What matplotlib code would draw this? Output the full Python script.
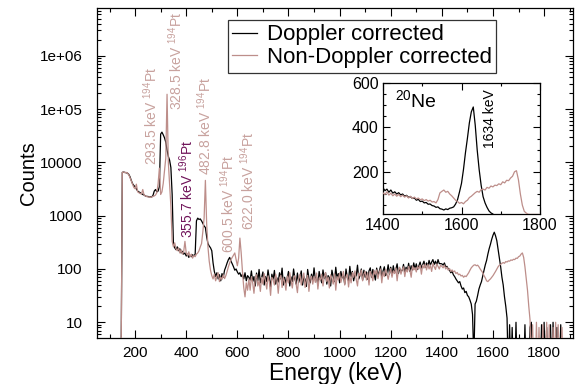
import numpy as np
import matplotlib
matplotlib.use("Agg")
import matplotlib.pyplot as plt
from matplotlib.ticker import FixedLocator, MultipleLocator, FuncFormatter, LogLocator, NullFormatter

plt.rcParams['font.family'] = ['Liberation Sans', 'DejaVu Sans']
plt.rcParams['mathtext.fontset'] = 'custom'
plt.rcParams['mathtext.rm'] = 'Liberation Sans'
plt.rcParams['mathtext.default'] = 'regular'

# ---------------- data (5 keV bins starting at 145 keV) ----------------
E0, DE = 145, 5
doppler = [
    1, 6500, 6600, 6500, 6400, 6300, 6000, 5400, 4600, 4000,      # 145-190
    3700, 3500, 3200, 2900, 2800, 2700, 2600, 2500, 2450, 2350,   # 195-240
    2300, 2300, 2250, 2250, 2250, 2400, 2900, 3100, 2800, 2900,   # 245-290
    3500, 34000, 37000, 33000, 29000, 24000, 17000, 13000, 11000, 8000,  # 295-340
    2500, 290, 250, 230, 260, 220, 240, 200, 215, 190,            # 345-390
    200, 175, 190, 165, 180, 170, 185, 175, 190, 800,             # 395-440
    900, 850, 870, 800, 720, 640, 600, 400, 300, 270,             # 445-490
    250, 220, 130, 90, 72, 85, 65, 78, 60, 82,                    # 495-540
    70, 95, 110, 130, 150, 165, 140, 125, 110, 95,                # 545-590
    100, 88, 80, 85, 72, 80, 65, 85, 60, 75,                      # 595-640
    70, 62, 92, 58, 72, 48, 84, 60, 98, 55,                       # 645-690
    69, 88, 50, 72, 58, 96, 66, 46, 80, 64,                       # 695-740
    94, 52, 68, 57, 85, 65, 104, 50, 70, 54,                      # 745-790
    67, 90, 48, 71, 58, 100, 66, 52, 84, 56,                      # 795-840
    69, 92, 50, 72, 64, 47, 98, 67, 55, 80,                       # 845-890
    60, 105, 64, 70, 50, 90, 68, 55, 96, 66,                      # 895-940
    85, 52, 75, 69, 48, 95, 71, 58, 108, 67,                      # 945-990
    82, 55, 90, 68, 78, 52, 100, 70, 60, 112,                     # 995-1040
    72, 90, 60, 80, 74, 118, 65, 77, 100, 62,                     # 1045-1090
    95, 70, 88, 64, 92, 105, 70, 98, 80, 62,                      # 1095-1140
    104, 76, 90, 112, 70, 92, 110, 75, 86, 120,                   # 1145-1190
    80, 108, 76, 115, 84, 98, 125, 82, 102, 88,                   # 1195-1240
    95, 122, 86, 108, 92, 128, 90, 115, 96, 130,                  # 1245-1290
    100, 125, 98, 114, 135, 104, 120, 140, 108, 130,              # 1295-1340
    112, 145, 118, 135, 150, 122, 140, 118, 150, 126,             # 1345-1390
    126, 125, 118, 130, 110, 112, 100, 95, 85, 90,                # 1395-1440
    78, 72, 65, 60, 55, 58, 48, 42, 44, 36,                       # 1445-1490
    38, 32, 30, 26, 22, 14, 2, 22, 25, 32,                        # 1495-1540
    42, 50, 58, 75, 95, 120, 145, 190, 240, 290,                  # 1545-1590
    360, 430, 490, 420, 340, 230, 160, 110, 70, 50,               # 1595-1640
    30, 20, 12, 1, 9, 1, 8, 1, 1, 10,                             # 1645-1690
    1, 1, 1, 1, 1, 1, 9, 1, 1, 1,                                 # 1695-1740
    8, 10, 1, 1, 1, 1, 1, 1, 1, 9,                                # 1745-1790
    1, 10, 1, 8, 1, 1, 9, 1, 10, 1,                               # 1795-1840
    1, 8, 1, 1, 9, 1, 1, 1, 1, 1,                                 # 1845-1890
    1,                                                            # 1895
]
non_doppler = [
    1, 6500, 6600, 6400, 6500, 6300, 5900, 5200, 4500, 3900,      # 145-190
    3400, 3200, 3900, 2800, 2700, 2600, 2550, 3100, 2450, 2350,   # 195-240
    2300, 2250, 2250, 2200, 2250, 2300, 2350, 2450, 2700, 4000,   # 245-290
    7800, 2500, 2800, 4000, 7000, 12000, 190000, 10000, 4000, 1500,  # 295-340
    330, 260, 310, 240, 220, 250, 200, 230, 190, 210,             # 345-390
    330, 200, 180, 210, 170, 190, 160, 180, 170, 190,             # 395-440
    200, 220, 260, 300, 500, 900, 4600, 700, 260, 140,            # 445-490
    95, 75, 65, 80, 60, 72, 85, 58, 70, 64,                       # 495-540
    78, 66, 75, 90, 110, 130, 150, 165, 180, 200,                 # 545-590
    150, 115, 160, 380, 200, 90, 45, 30, 55, 40,                  # 595-640
    65, 40, 72, 55, 35, 66, 78, 48, 60, 38,                       # 645-690
    70, 52, 82, 60, 42, 74, 58, 32, 70, 63,                       # 695-740
    50, 80, 62, 35, 66, 76, 45, 69, 58, 40,                       # 745-790
    74, 55, 86, 62, 44, 70, 75, 52, 36, 68,                       # 795-840
    80, 50, 65, 84, 45, 62, 76, 38, 66, 73,                       # 845-890
    52, 72, 56, 84, 42, 68, 62, 80, 48, 70,                       # 895-940
    86, 58, 70, 44, 78, 67, 52, 82, 40, 72,                       # 945-990
    62, 84, 56, 70, 90, 50, 72, 80, 46, 74,                       # 995-1040
    55, 86, 70, 92, 64, 48, 84, 74, 95, 60,                       # 1045-1090
    80, 90, 62, 85, 50, 90, 76, 60, 94, 80,                       # 1095-1140
    96, 66, 85, 100, 55, 88, 72, 98, 82, 64,                      # 1145-1190
    84, 102, 70, 92, 82, 104, 60, 96, 108, 80,                    # 1195-1240
    98, 110, 72, 100, 88, 112, 94, 70, 114, 96,                   # 1245-1290
    106, 88, 112, 100, 118, 80, 118, 104, 124, 96,                # 1295-1340
    122, 100, 118, 90, 126, 110, 98, 124, 112, 100,               # 1345-1390
    118, 112, 105, 118, 100, 108, 95, 102, 90, 96,                # 1395-1440
    88, 92, 82, 86, 78, 80, 74, 76, 70, 74,                       # 1445-1490
    72, 78, 85, 95, 105, 112, 118, 120, 115, 118,                 # 1495-1540
    110, 100, 92, 85, 75, 68, 60, 58, 62, 65,                     # 1545-1590
    70, 75, 82, 90, 100, 110, 118, 122, 128, 132,                 # 1595-1640
    128, 138, 135, 142, 140, 148, 145, 152, 150, 160,             # 1645-1690
    158, 170, 175, 190, 200, 165, 110, 65, 40, 20,                # 1695-1740
    11, 1, 9, 1, 1, 10, 1, 8, 1, 1,                               # 1745-1790
    9, 1, 1, 10, 1, 9, 1, 1, 8, 1,                                # 1795-1840
    10, 1, 9, 1, 1, 8, 1, 1, 1, 1,                                # 1845-1890
    1,                                                            # 1895
]

# inset (linear scale, 5 keV bins from 1400 keV)
I0 = 1400
inset_doppler = [
    128, 115, 122, 108, 118, 104, 110, 100, 106, 96,    # 1400-1445
    100, 90, 94, 85, 88, 80, 82, 72, 76, 66,            # 1450-1495
    68, 60, 62, 54, 55, 48, 46, 40, 42, 34,             # 1500-1545
    32, 28, 33, 30, 36, 38, 42, 55, 75, 110,            # 1550-1595
    148, 210, 285, 350, 420, 470, 492, 410, 298, 210,   # 1600-1645
    140, 88, 60, 40, 24, 15, 10, 0, 0, 0,               # 1650-1695
    0, 0, 0, 0, 0, 0, 0, 0, 0, 0,                       # 1700-1745
    0, 0, 0, 0, 0, 0, 0, 0, 0, 0,                       # 1750-1795
    0,                                                  # 1800
]
inset_non_doppler = [
    105, 98, 110, 95, 104, 92, 100, 90, 98, 88,         # 1400-1445
    95, 86, 92, 82, 90, 80, 86, 78, 82, 74,             # 1450-1495
    78, 70, 75, 68, 72, 64, 66, 60, 75, 105,            # 1500-1545
    112, 118, 108, 112, 100, 92, 82, 72, 66, 58,        # 1550-1595
    62, 56, 66, 72, 84, 90, 98, 106, 112, 108,          # 1600-1645
    120, 122, 118, 130, 126, 136, 132, 140, 138, 146,   # 1650-1695
    142, 155, 150, 162, 160, 172, 180, 200, 205, 165,   # 1700-1745
    100, 50, 22, 14, 9, 8, 8, 8, 8, 8,                  # 1750-1795
    8,                                                  # 1800
]

series_labels = ["Doppler corrected", "Non-Doppler corrected"]
peak_labels = [
    ("293.5 keV $^{194}$Pt", 263, 8900),
    ("328.5 keV $^{194}$Pt", 360, 95000),
    ("355.7 keV $^{196}$Pt", 400, 380),
    ("482.8 keV $^{194}$Pt", 474, 5800),
    ("600.5 keV $^{194}$Pt", 564, 200),
    ("622.0 keV $^{194}$Pt", 642, 540),
]
ytick_vals = [10, 100, 1000, 10000, 1e5, 1e6]
ytick_text = ["10", "100", "1000", "10000", "1e+05", "1e+06"]

# ---------------- plotting ----------------
C_DC = "#000000"
C_NDC = "#bd8e8a"
C_LBL = "#c8a29e"
C_196 = "#70145a"

e_dc = E0 + DE * np.arange(len(doppler))
e_ndc = E0 + DE * np.arange(len(non_doppler))
e_idc = I0 + DE * np.arange(len(inset_doppler))
e_indc = I0 + DE * np.arange(len(inset_non_doppler))

fig = plt.figure(figsize=(5.75, 3.84), dpi=100)
ax = fig.add_axes([97/575, 46/384, 476/575, 330/384])

l1, = ax.plot(e_dc, doppler, color=C_DC, lw=0.9, zorder=2)
l2, = ax.plot(e_ndc, non_doppler, color=C_NDC, lw=0.9, zorder=3)

ax.set_yscale('log')
ax.set_xlim(51, 1913)
ax.set_ylim(5.07, 7.9e6)

ax.set_xticks([200, 400, 600, 800, 1000, 1200, 1400, 1600, 1800])
ax.xaxis.set_minor_locator(MultipleLocator(100))
ax.yaxis.set_major_locator(FixedLocator(ytick_vals))
ax.yaxis.set_major_formatter(FuncFormatter(lambda v, p: dict(zip(ytick_vals, ytick_text)).get(v, "")))
ax.yaxis.set_minor_locator(LogLocator(base=10, subs=np.arange(2, 10)))
ax.yaxis.set_minor_formatter(NullFormatter())

ax.tick_params(which='both', direction='in', top=True, right=True, width=0.8)
ax.tick_params(which='major', length=6)
ax.tick_params(which='minor', length=3)
ax.tick_params(axis='y', which='major', labelsize=11, pad=10.5)
ax.tick_params(axis='x', which='major', labelsize=11, pad=5.5)
for s in ax.spines.values():
    s.set_linewidth(0.9)

ax.set_xlabel("Energy (keV)", fontsize=16.5)
ax.set_ylabel("Counts", fontsize=14.5)
ax.xaxis.set_label_coords(0.501, -0.074)
ax.yaxis.set_label_coords(-0.124, 0.5)

for txt, ex, cy in peak_labels:
    col = C_196 if "196" in txt else C_LBL
    ax.text(ex, cy, txt, rotation=90, ha='center', va='bottom', fontsize=10, color=col, zorder=5)

leg = fig.legend([l1, l2], series_labels, loc='upper left', bbox_to_anchor=(228/575, 1 - 20/384),
                 fontsize=16, frameon=True, fancybox=False, handlelength=1.1, handletextpad=0.45,
                 borderpad=0.2, labelspacing=0.08, borderaxespad=0.0)
leg.get_frame().set_edgecolor('black')
leg.get_frame().set_linewidth(0.9)
for h in leg.get_lines():
    h.set_linewidth(0.9)

# inset
axi = fig.add_axes([383/575, 170/384, 157/575, 131/384])
axi.set_facecolor('white')
axi.plot(e_idc, inset_doppler, color=C_DC, lw=0.9, zorder=2)
axi.plot(e_indc, inset_non_doppler, color=C_NDC, lw=0.9, zorder=3)
axi.set_xlim(1400, 1800)
axi.set_ylim(10, 600)
axi.set_xticks([1400, 1600, 1800])
axi.set_yticks([200, 400, 600])
axi.xaxis.set_minor_locator(MultipleLocator(100))
axi.yaxis.set_minor_locator(MultipleLocator(50))
axi.tick_params(which='both', direction='in', top=True, right=True, width=0.8)
axi.tick_params(which='major', length=5, labelsize=11.5, pad=3)
axi.tick_params(which='minor', length=2.5)
for s in axi.spines.values():
    s.set_linewidth(0.9)
axi.text(1672, 307, "1634 keV", rotation=90, ha='center', va='bottom', fontsize=10, color='black')
axi.text(1430, 572, "$^{20}$Ne", ha='left', va='top', fontsize=14, color='black')

fig.savefig("out.png", dpi=100)
